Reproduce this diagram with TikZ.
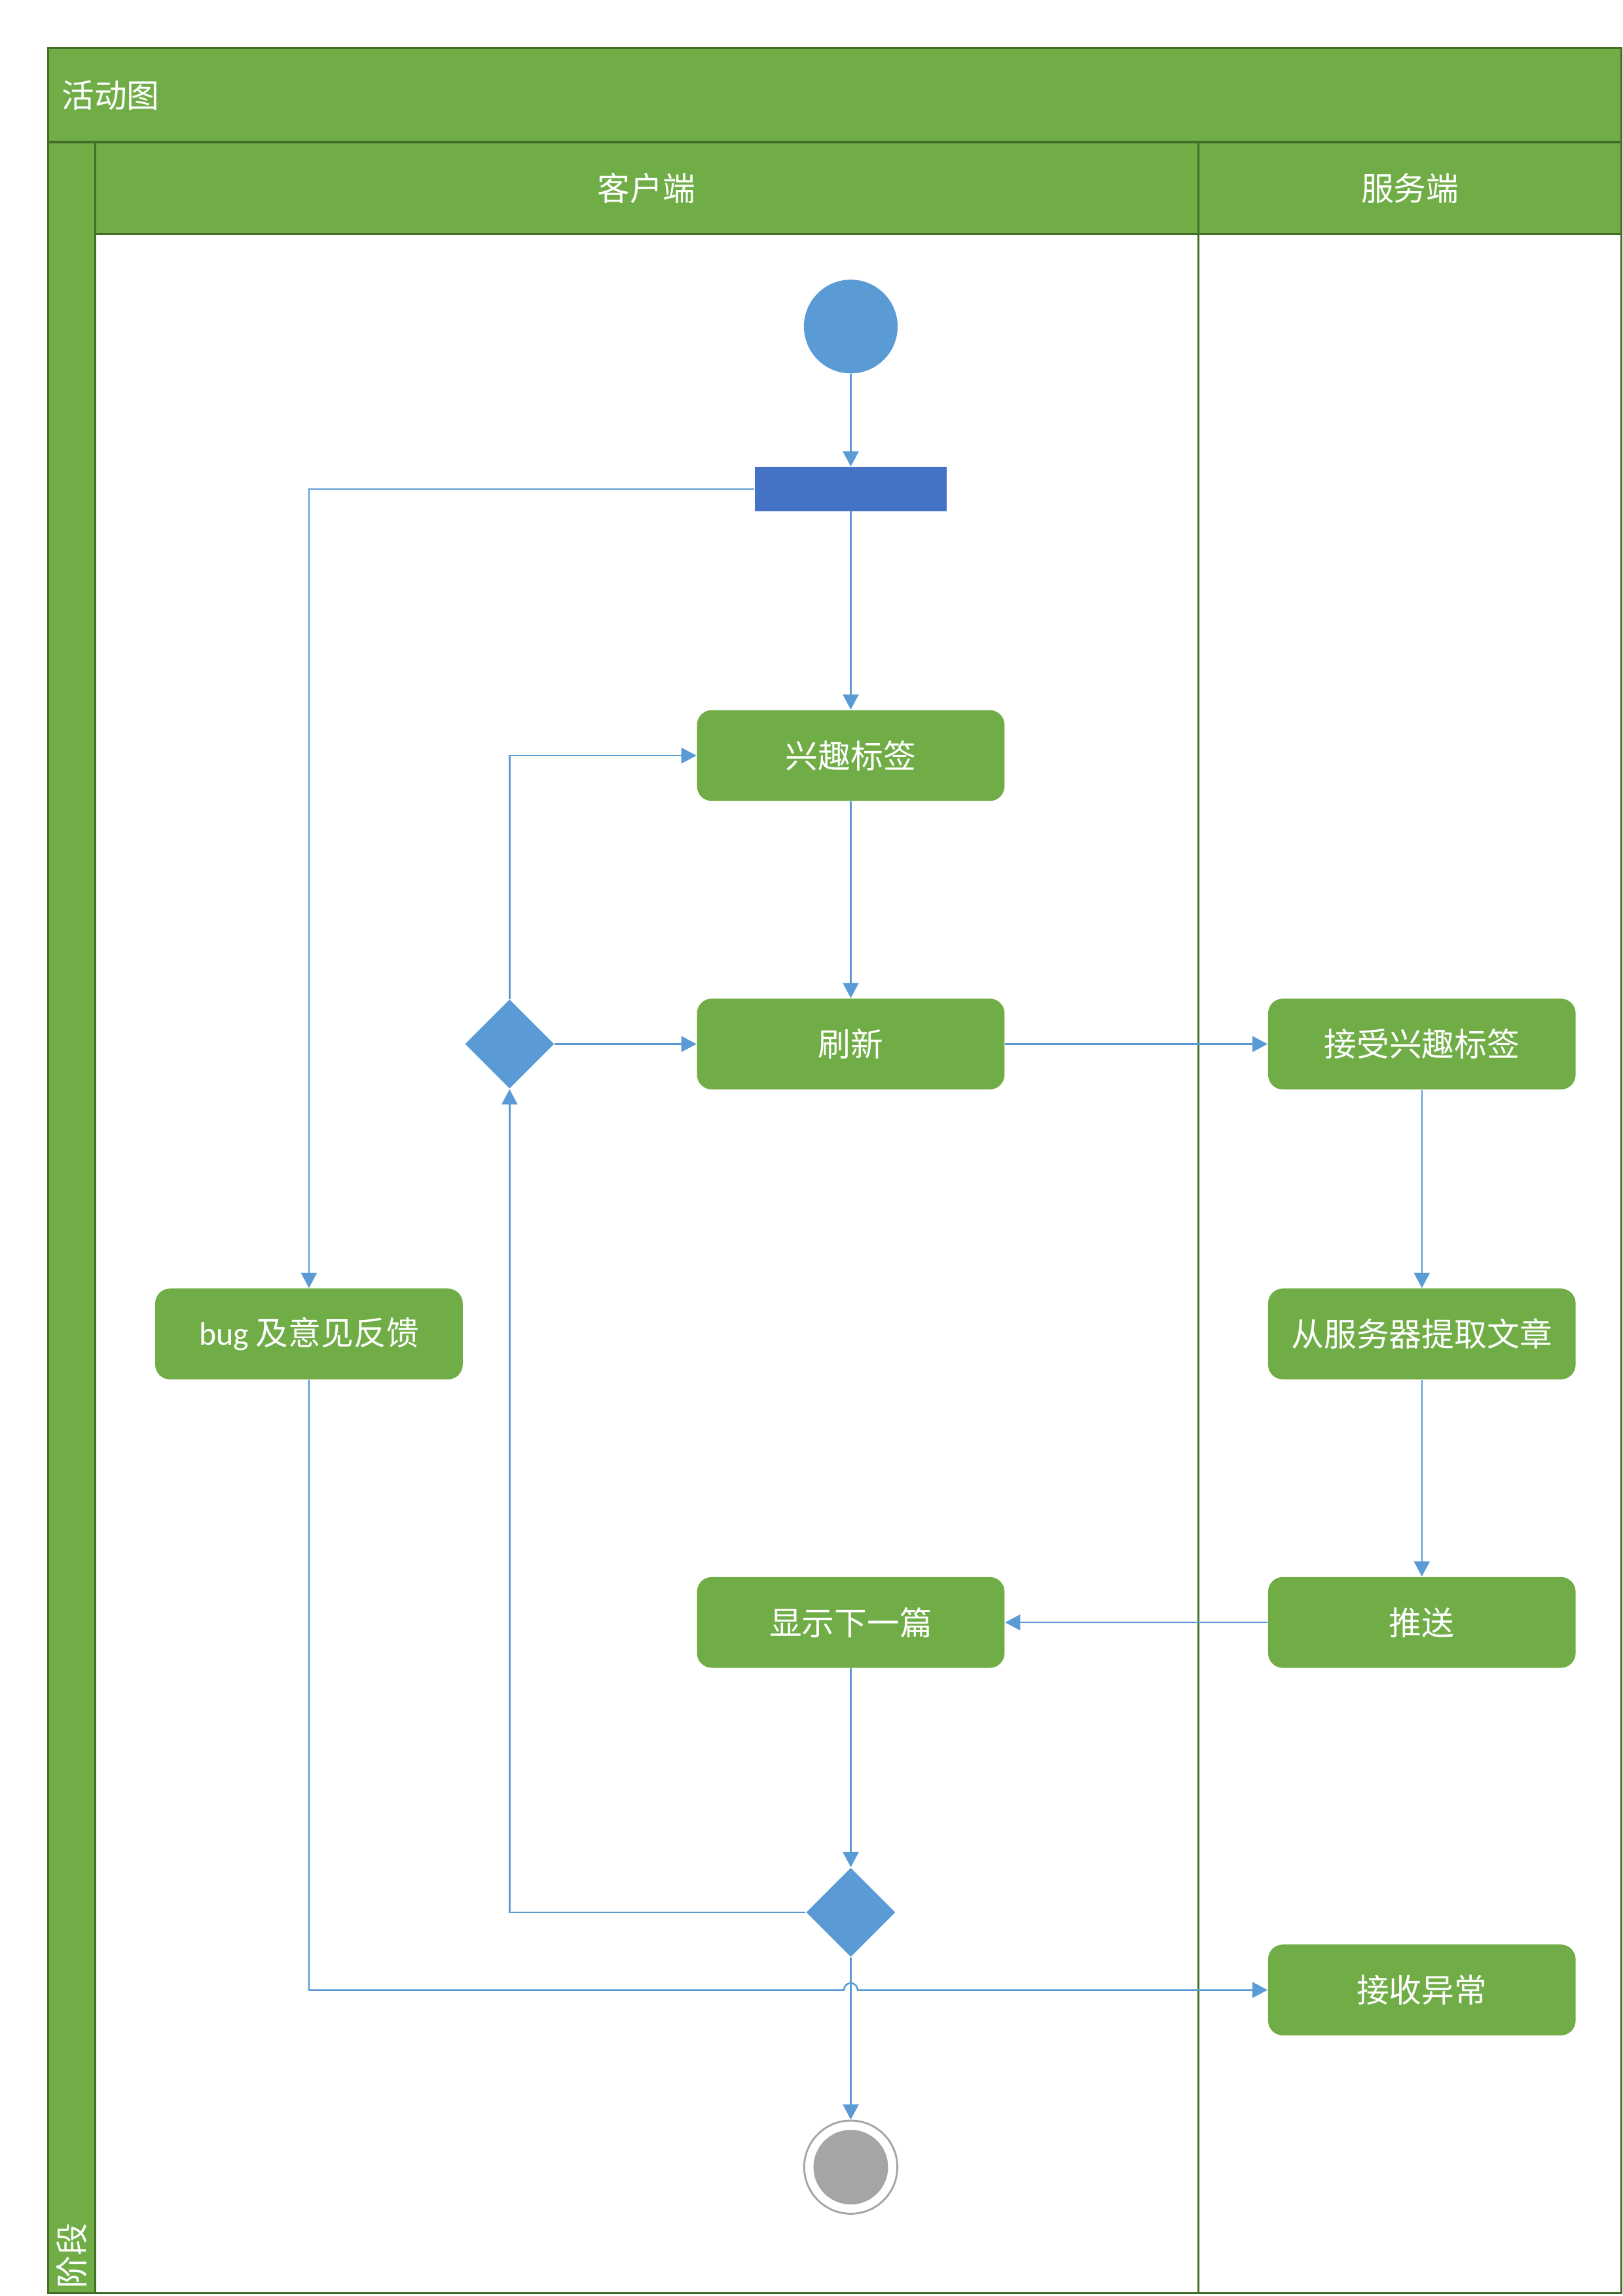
\documentclass[tikz,border=0pt]{standalone}
\usepackage{fontspec}
\setmainfont{Carlito}
\newfontfamily\cjk{Noto Sans CJK SC}
\newfontfamily\latinfam{Carlito}
\usetikzlibrary{shapes.geometric,arrows.meta}
\definecolor{lanegreen}{HTML}{70AD47}
\definecolor{frameline}{HTML}{426E28}
\definecolor{flowblue}{HTML}{5B9BD5}
\definecolor{forkblue}{HTML}{4472C4}
\definecolor{endgray}{HTML}{A5A5A5}
\begin{document}
\begin{tikzpicture}[x=0.018953cm,y=-0.018953cm,
  txt/.style={text=white,font=\fontsize{12}{14}\selectfont\cjk,inner sep=1pt},
  act/.style={txt,rectangle,rounded corners=0.19cm,fill=lanegreen,draw=none,minimum width=3.98cm,minimum height=1.175cm,inner sep=0pt},
  decision/.style={diamond,aspect=1,fill=flowblue,draw=none,minimum width=1.156cm,minimum height=1.156cm,inner sep=0pt},
  flow/.style={draw=flowblue,line width=0.6pt,-{Triangle[width=5.8pt,length=5.6pt]}},
  frame/.style={draw=frameline,line width=0.7pt}
]
\useasboundingbox (0,0) rectangle (1108,1568);
% swimlane background
\fill[lanegreen] (33,33) rectangle (1107.3,160);
\fill[lanegreen] (33,160) rectangle (65,1566);
\draw[frame] (33,33) rectangle (1107.3,1566);
\draw[frameline,line width=1.1pt] (33,97) -- (1107.3,97);
\draw[frame] (65,97) -- (65,1566);
\draw[frame] (65,160) -- (1107.3,160);
\draw[frame] (818.5,97) -- (818.5,1566);
% headers
\node[txt,anchor=west] (title) at (40,65) {活动图};
\node[txt] (client) at (441.5,128.5) {客户端};
\node[txt] (server) at (963,128.5) {服务端};
\node[txt,rotate=90,anchor=west] (phase) at (49,1565) {阶段};
% nodes
\node[circle,fill=flowblue,minimum size=1.213cm,inner sep=0pt] (start) at (581,223) {};
\node[rectangle,fill=forkblue,minimum width=2.483cm,minimum height=0.569cm,inner sep=0pt] (fork) at (581,334) {};
\node[act] (tags) at (581,516) {兴趣标签};
\node[act] (refresh) at (581,713) {刷新};
\node[decision] (dec1) at (348,713) {};
\node[act] (accept) at (971,713) {接受兴趣标签};
\node[act] (bug) at (211,911) {{\latinfam bug} 及意见反馈};
\node[act] (fetch) at (971,911) {从服务器提取文章};
\node[act] (show) at (581,1108) {显示下一篇};
\node[act] (push) at (971,1108) {推送};
\node[decision] (dec2) at (581,1306) {};
\node[act] (recv) at (971,1359) {接收异常};
\node[circle,draw=endgray,line width=0.7pt,fill=white,minimum size=1.206cm,inner sep=0pt] (end) at (581,1480) {};
\node[circle,fill=endgray,minimum size=0.966cm,inner sep=0pt] (endin) at (end.center) {};
% connectors
\draw[flow] (start.south) -- (fork.north);
\draw[flow] (fork.south) -- (tags.north);
\draw[flow] (fork.west) -| (bug.north);
\draw[flow] (tags.south) -- (refresh.north);
\draw[flow] (dec1.east) -- (refresh.west);
\draw[flow] (dec1.north) |- (tags.west);
\draw[flow] (refresh.east) -- (accept.west);
\draw[flow] (accept.south) -- (fetch.north);
\draw[flow] (fetch.south) -- (push.north);
\draw[flow] (push.west) -- (show.east);
\draw[flow] (show.south) -- (dec2.north);
\draw[flow] (dec2.west) -| (dec1.south);
\draw[flow] (dec2.south) -- (end.north);
\coordinate (hopA) at (576.3,1359);
\draw[flow] (bug.south) |- (hopA) arc[start angle=180,end angle=0,radius=0.089cm] -- (recv.west);
\end{tikzpicture}
\end{document}
